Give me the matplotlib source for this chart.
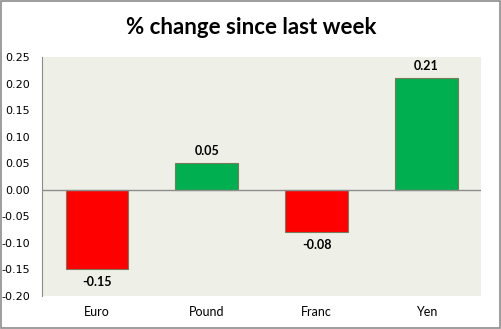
import matplotlib
matplotlib.use('Agg')
import matplotlib.pyplot as plt
from matplotlib.patches import Rectangle

# данные
currencies = ['Euro', 'Pound', 'Franc', 'Yen']
changes = [-0.15, 0.05, -0.08, 0.21]
yticks = [0.25, 0.20, 0.15, 0.10, 0.05, 0.00, -0.05, -0.10, -0.15, -0.20]

colors = ['#FF0000' if v < 0 else '#00B050' for v in changes]

fig = plt.figure(figsize=(5.02, 3.29), dpi=100)
fig.patch.set_facecolor('white')
fig.patches.append(Rectangle((0.002, 0.003), 0.995, 0.994, transform=fig.transFigure,
                             fill=False, edgecolor='#8C8C8C', linewidth=1.2))

ax = fig.add_axes([0.0837, 0.1003, 0.875, 0.7264])
ax.set_facecolor('#EEF0E8')

x = range(len(currencies))
ax.bar(x, changes, width=0.57, color=colors, edgecolor='#7A7A5A', linewidth=0.8, zorder=2)
ax.axhline(0, color='#8C8C8C', linewidth=1, zorder=3)

for i, v in enumerate(changes):
    off = 0.012 if v > 0 else -0.012
    ax.text(i, v + off, f'{v:.2f}', ha='center', va='bottom' if v > 0 else 'top',
            fontsize=9, fontweight='bold', family='Lato')

ax.set_xlim(-0.5, len(currencies) - 0.5)
ax.set_ylim(-0.20, 0.25)
ax.set_yticks(yticks)
ax.set_yticklabels([f'{t:.2f}' for t in yticks], fontsize=8, family='DejaVu Sans')
ax.set_xticks(list(x))
ax.set_xticklabels(currencies, fontsize=9, family='Lato')
ax.tick_params(axis='x', length=0, pad=7)
ax.tick_params(axis='y', length=0, pad=8.5)

for s in ['top', 'right', 'bottom']:
    ax.spines[s].set_visible(False)
ax.spines['left'].set_color('#8C8C8C')

fig.text(0.5, 0.915, '% change since last week', ha='center', va='center',
         fontsize=16, fontweight='bold', family='Lato')

fig.savefig('out.png', dpi=100)
